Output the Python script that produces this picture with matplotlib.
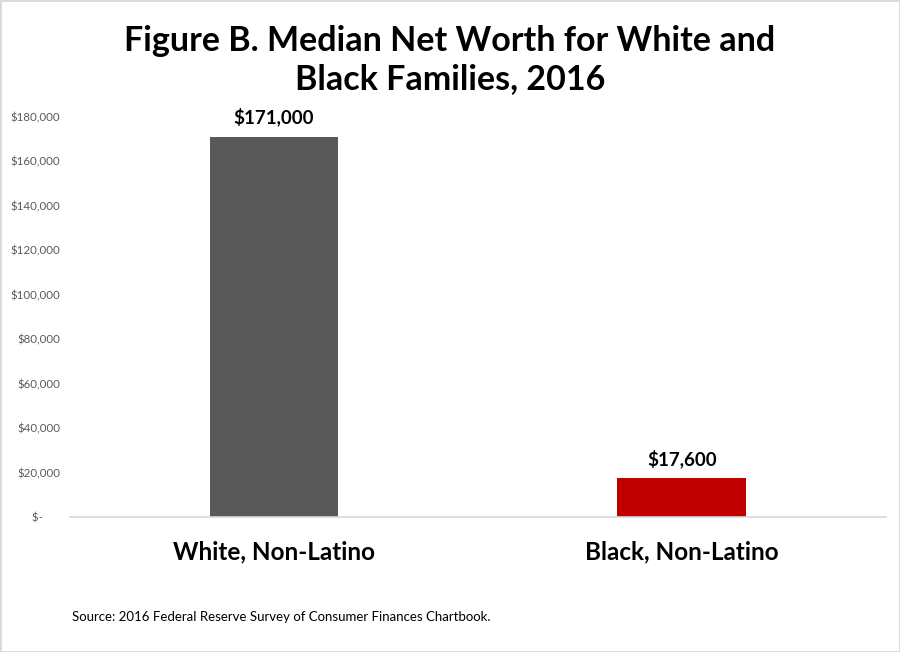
import matplotlib

matplotlib.use("Agg")
import matplotlib.pyplot as plt
from matplotlib.patches import Rectangle

categories = ["White, Non-Latino", "Black, Non-Latino"]
values = [171000, 17600]
value_labels = ["$171,000", "$17,600"]
colors = ["#595959", "#C00000"]
yticks = [0, 20000, 40000, 60000, 80000, 100000, 120000, 140000, 160000, 180000]
# accounting-style zero: dash sits left of the digits column
ytick_labels = ["$-      ", "$20,000", "$40,000", "$60,000", "$80,000", "$100,000",
                "$120,000", "$140,000", "$160,000", "$180,000"]

plt.rcParams["font.family"] = ["Lato", "DejaVu Sans"]

fig = plt.figure(figsize=(9, 6.52), dpi=100)
fig.patches.append(Rectangle((0, 0), 1, 1, transform=fig.transFigure, fill=False,
                             edgecolor="#d9d9d9", linewidth=2))
ax = fig.add_axes([0.078, 0.207, 0.906, 0.614])

x = range(len(categories))
ax.bar(x, values, width=0.316, color=colors)
for xi, v, lab in zip(x, values, value_labels):
    ax.text(xi, v + 4500, lab, ha="center", va="bottom", fontsize=13.5,
            fontweight="bold", color="black")

ax.set_xlim(-0.5, 1.5)
ax.set_ylim(0, 180000)
ax.set_yticks(yticks)
ax.set_yticklabels(ytick_labels, fontsize=8.3, color="#595959")
ax.set_xticks(list(x))
ax.set_xticklabels(categories, fontsize=17.5, fontweight="bold")
ax.tick_params(axis="both", length=0)
ax.tick_params(axis="x", pad=17)
ax.tick_params(axis="y", pad=7)
for s in ["top", "right", "left"]:
    ax.spines[s].set_visible(False)
ax.spines["bottom"].set_color("#d9d9d9")
ax.spines["bottom"].set_linewidth(1.2)

fig.text(0.5, 0.908, "Figure B. Median Net Worth for White and\nBlack Families, 2016",
         ha="center", va="center", fontsize=24.5, fontweight="bold", linespacing=1.2)
fig.text(0.08, 0.053, "Source: 2016 Federal Reserve Survey of Consumer Finances Chartbook.",
         ha="left", va="center", fontsize=9.5)

fig.savefig("out.png", dpi=100)
